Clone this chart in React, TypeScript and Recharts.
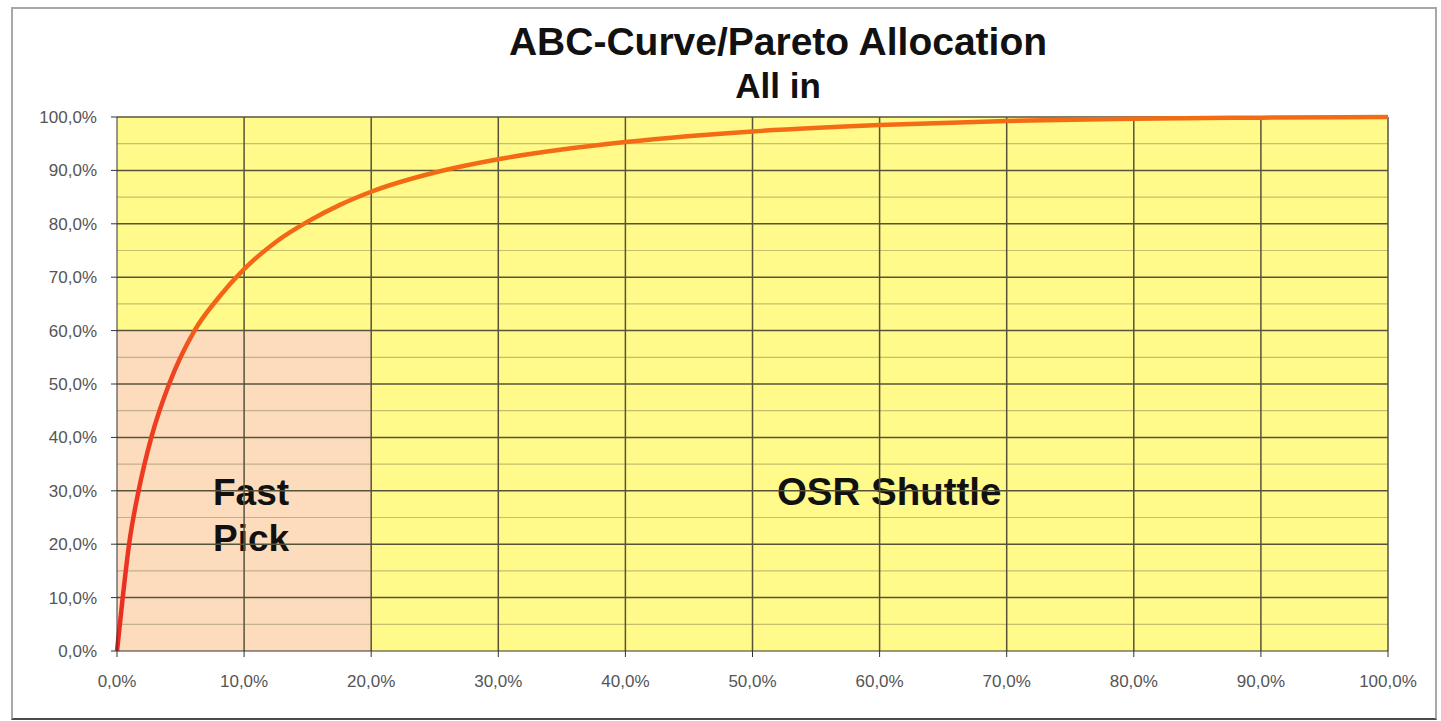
import React from "react";
import { LineChart, Line, XAxis, YAxis, ReferenceArea, ReferenceLine } from "recharts";

// cumulative share of picks (%) against share of articles (%)
const articleShare = [0, 0.45, 0.95, 1.7, 2.7, 4.1, 6.1, 8, 10, 12.5, 15, 17.5, 20, 25, 30, 35, 40, 50, 60, 70, 80, 90, 100];
const pickShare = [0, 10, 20, 30, 40, 50, 60, 66.2, 71.5, 76.6, 80.4, 83.5, 86.0, 89.6, 92.1, 93.9, 95.3, 97.3, 98.5, 99.25, 99.65, 99.88, 100];

const xTicks = [0, 10, 20, 30, 40, 50, 60, 70, 80, 90, 100];
const yTicks = [0, 10, 20, 30, 40, 50, 60, 70, 80, 90, 100];
const yMinor = [5, 15, 25, 35, 45, 55, 65, 75, 85, 95];

// zone boundaries: fast pick covers the first 20 % of articles up to 60 % of picks
const fastPickX = [0, 20];
const fastPickY = [0, 60];
const shuttleX = [20, 100];

const data = articleShare.map((x, i) => ({ x, y: pickShare[i] }));

const FONT = "'Liberation Sans', Arial, sans-serif";
const YELLOW = "#fffa8a";
const PEACH = "#fcdcbc";
const GRID = "#57533a";

const pct = (v: number) => v.toFixed(1).replace(".", ",") + "%";

export default function App() {
  return (
    <div style={{ position: "absolute", left: 0, top: 0, width: 1441, height: 721, background: "#fff", fontFamily: FONT }}>
      <div
        style={{
          position: "absolute",
          left: 11,
          top: 7,
          width: 1422,
          height: 709,
          border: "2px solid #a8a8a8",
          borderBottom: "2px solid #4a4a4a",
        }}
      />
      <div style={{ position: "absolute", left: 778, top: 20, transform: "translateX(-50%)", fontWeight: 700, textAlign: "center", whiteSpace: "nowrap", color: "#111" }}>
        <div style={{ fontSize: 39, lineHeight: "44px" }}>ABC-Curve/Pareto Allocation</div>
        <div style={{ fontSize: 35, lineHeight: "44px" }}>All in</div>
      </div>
      <div style={{ position: "absolute", left: 0, top: 0 }}>
        <LineChart width={1441} height={721} data={data} margin={{ top: 117, right: 53, bottom: 0, left: 0 }}>
          <defs>
            <linearGradient id="curveStroke" x1="0" x2="0" y1="0" y2="1">
              <stop offset="0%" stopColor="#f36c14" />
              <stop offset="38%" stopColor="#f26416" />
              <stop offset="48%" stopColor="#ef4220" />
              <stop offset="100%" stopColor="#ea2a22" />
            </linearGradient>
          </defs>
          <XAxis
            type="number"
            dataKey="x"
            domain={[0, 100]}
            ticks={xTicks}
            tickFormatter={pct}
            height={70}
            tickSize={6}
            tickMargin={18}
            axisLine={{ stroke: "#333" }}
            tickLine={{ stroke: "#333" }}
            tick={{ fill: "#555", fontSize: 17, fontFamily: FONT }}
          />
          <YAxis
            type="number"
            domain={[0, 100]}
            ticks={yTicks}
            tickFormatter={pct}
            width={117}
            tickSize={6}
            tickMargin={14}
            axisLine={{ stroke: "#333" }}
            tickLine={{ stroke: "#333" }}
            tick={{ fill: "#555", fontSize: 17, fontFamily: FONT }}
          />
          <ReferenceArea x1={0} x2={100} y1={0} y2={100} fill={YELLOW} fillOpacity={1} stroke="none" />
          <ReferenceArea
            x1={fastPickX[0]}
            x2={fastPickX[1]}
            y1={fastPickY[0]}
            y2={fastPickY[1]}
            fill={PEACH}
            fillOpacity={1}
            stroke="none"
            label={{
              content: ({ viewBox }: any) => (
                <text x={viewBox.x + 96} y={viewBox.y + 174} fontSize={37} fontWeight={700} fill="#111" fontFamily={FONT}>
                  <tspan x={viewBox.x + 96}>Fast</tspan>
                  <tspan x={viewBox.x + 96} dy={46}>Pick</tspan>
                </text>
              ),
            }}
          />
          <ReferenceArea
            x1={shuttleX[0]}
            x2={shuttleX[1]}
            y1={fastPickY[0]}
            y2={fastPickY[1]}
            fill={YELLOW}
            fillOpacity={1}
            stroke="none"
            label={{
              content: ({ viewBox }: any) => (
                <text x={viewBox.x + 518} y={viewBox.y + 174} textAnchor="middle" fontSize={38.5} fontWeight={700} fill="#111" fontFamily={FONT}>
                  OSR Shuttle
                </text>
              ),
            }}
          />
          {yMinor.map((v) => (
            <ReferenceLine key={"m" + v} y={v} stroke="#8c8350" strokeOpacity={0.5} strokeWidth={1.2} />
          ))}
          {yTicks.slice(1).map((v) => (
            <ReferenceLine key={"h" + v} y={v} stroke={GRID} strokeWidth={1.5} />
          ))}
          {xTicks.slice(1).map((v) => (
            <ReferenceLine key={"v" + v} x={v} stroke={GRID} strokeWidth={1.5} />
          ))}
          <Line
            type="monotone"
            dataKey="y"
            stroke="url(#curveStroke)"
            strokeWidth={4.5}
            dot={false}
            isAnimationActive={false}
          />
        </LineChart>
      </div>
    </div>
  );
}
